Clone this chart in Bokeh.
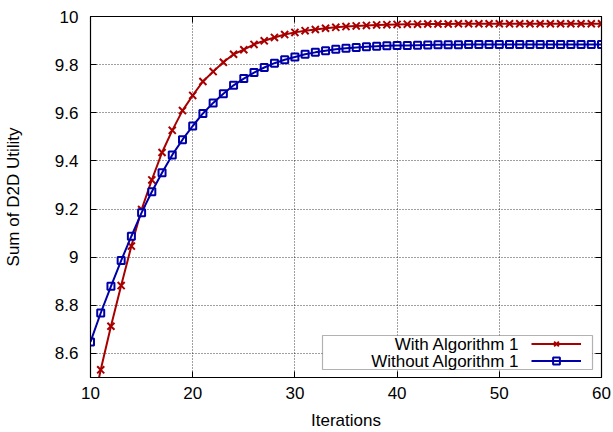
from bokeh.plotting import figure
from bokeh.models import (FixedTicker, CustomJSTickFormatter, LinearAxis, Range1d,
                          Legend, LegendItem, Label, BoxAnnotation)
from bokeh.embed import file_html
from bokeh.resources import INLINE

# ---- data ----
x_with = list(range(10, 61))
y_with = [8.33, 8.532, 8.713, 8.882, 9.046, 9.198, 9.321, 9.435, 9.527, 9.609, 9.672,
          9.730, 9.771, 9.810, 9.843, 9.862, 9.884, 9.899, 9.913, 9.925, 9.934,
          9.941, 9.946, 9.951, 9.955, 9.958, 9.961, 9.963, 9.965, 9.966, 9.967,
          9.968, 9.968, 9.969, 9.969, 9.969, 9.970, 9.970, 9.970, 9.970, 9.970,
          9.970, 9.970, 9.970, 9.970, 9.970, 9.970, 9.970, 9.970, 9.970, 9.970]
x_without = list(range(10, 61))
y_without = [8.648, 8.768, 8.879, 8.986, 9.087, 9.185, 9.272, 9.351, 9.425, 9.488, 9.545,
             9.597, 9.641, 9.679, 9.714, 9.742, 9.767, 9.788, 9.806, 9.820, 9.832,
             9.843, 9.851, 9.858, 9.864, 9.868, 9.871, 9.874, 9.876, 9.878, 9.879,
             9.880, 9.881, 9.882, 9.883, 9.883, 9.883, 9.884, 9.884, 9.884, 9.884,
             9.884, 9.884, 9.884, 9.884, 9.884, 9.884, 9.884, 9.884, 9.884, 9.884]
x_ticks = [10, 20, 30, 40, 50, 60]
y_ticks = [8.6, 8.8, 9.0, 9.2, 9.4, 9.6, 9.8, 10.0]
label_with = "With Algorithm 1"
label_without = "Without Algorithm 1"
x_title = "Iterations"
y_title = "Sum of D2D Utility"

RED = "#a80000"
BLUE = "#0000a8"
FONT = "Liberation Sans"
FS = "17px"

p = figure(width=613, height=432, output_backend="svg", toolbar_location=None,
           x_range=Range1d(10, 60), y_range=Range1d(8.5, 10.0),
           min_border_left=89, min_border_right=12, min_border_top=16, min_border_bottom=52)

p.outline_line_color = "black"
p.outline_line_width = 1.2
p.background_fill_color = "white"
p.border_fill_color = "white"

for ax, ticks in ((p.xaxis[0], x_ticks), (p.yaxis[0], y_ticks)):
    ax.ticker = FixedTicker(ticks=ticks)
    ax.major_tick_in = 6
    ax.major_tick_out = 0
    ax.minor_tick_line_color = None
    ax.axis_line_color = "black"
    ax.major_label_text_font = FONT
    ax.major_label_text_font_size = FS
    ax.major_label_text_color = "black"
    ax.axis_label_text_font = FONT
    ax.axis_label_text_font_size = FS
    ax.axis_label_text_font_style = "normal"
    ax.axis_label_text_color = "black"

p.yaxis[0].formatter = CustomJSTickFormatter(code="return tick.toFixed(1).replace(/\\.0$/, '');")
p.xaxis[0].axis_label = x_title
p.yaxis[0].axis_label = y_title
p.xaxis[0].major_label_standoff = 9
p.xaxis[0].axis_label_standoff = 9
p.yaxis[0].major_label_standoff = 12
p.yaxis[0].axis_label_standoff = 29

# mirrored ticks on top and right (no labels)
for loc in ("right", "above"):
    ax = LinearAxis(ticker=FixedTicker(ticks=y_ticks if loc == "right" else x_ticks),
                    formatter=CustomJSTickFormatter(code="return '';"))
    ax.major_tick_in = 6
    ax.major_tick_out = 0
    ax.minor_tick_line_color = None
    ax.major_label_standoff = 0
    ax.axis_line_color = "black"
    p.add_layout(ax, loc)

p.xgrid.ticker = FixedTicker(ticks=x_ticks)
p.ygrid.ticker = FixedTicker(ticks=y_ticks)
for g in (p.xgrid, p.ygrid):
    g.grid_line_color = "black"
    g.grid_line_alpha = 0.75
    g.grid_line_dash = "1 2"
    g.grid_line_width = 1

lw = p.line(x_with, y_with, line_color=RED, line_width=2)
sw = p.scatter(x_with, y_with, marker="x", size=10, line_color=RED, line_width=2)
so = p.scatter(x_without, y_without, marker="square", size=7, line_color=BLUE,
               fill_color="white", line_width=2)
lo = p.line(x_without, y_without, line_color=BLUE, line_width=2)

# legend box (text on left, samples on right, as in the reference)
box = BoxAnnotation(left=232, right=502, bottom=8, top=42,
                    left_units="screen", right_units="screen",
                    bottom_units="screen", top_units="screen",
                    fill_color="white", fill_alpha=1.0,
                    line_color="black", line_width=1.2)
p.add_layout(box)

legend = Legend(items=[LegendItem(label=" ", renderers=[lw, sw]),
                       LegendItem(label=" ", renderers=[so, lo])],
                location=(441, 8), glyph_width=50, glyph_height=17,
                label_width=0, label_standoff=0, label_text_font_size="2px",
                padding=0, margin=0, spacing=0,
                border_line_color=None, background_fill_alpha=0)
p.add_layout(legend, "center")

for txt, yy in ((label_with, 33.5), (label_without, 16.5)):
    p.add_layout(Label(x=429, y=yy, x_units="screen", y_units="screen", text=txt,
                       text_align="right", text_baseline="middle",
                       text_font=FONT, text_font_size=FS, text_color="black"))

open("out.html", "w").write(file_html(p, INLINE))
